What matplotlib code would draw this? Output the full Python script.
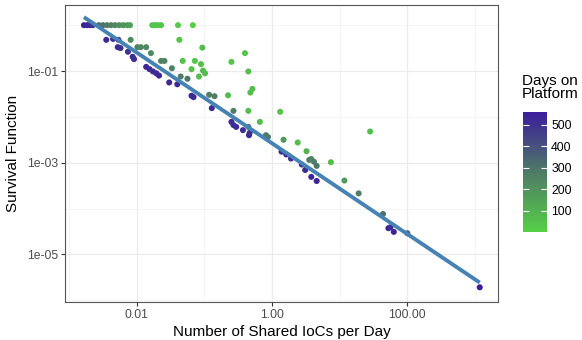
import numpy as np
import matplotlib
matplotlib.use("Agg")
import matplotlib.pyplot as plt
from matplotlib.colors import LinearSegmentedColormap

plt.rcParams['font.family'] = ['Liberation Sans', 'DejaVu Sans']

# values (log10 of the plotted quantities)
log_iocs = [-2.78, -2.73, -2.69, -2.65, -2.56, -2.50, -2.44, -2.38, -2.32, -2.26,
            -2.20, -2.14, -2.10, -1.77, -1.73, -1.69, -1.64, -1.39, -1.17,
            -2.45, -2.35, -2.27, -2.09, -2.28, -2.24, -2.13, -2.06, -2.04, -1.99,
            -1.94, -1.86, -1.79, -1.86, -1.81, -1.76, -1.71, -1.67, -1.64, -1.59,
            -1.48, -1.35, -1.52, -1.40, -1.37, -1.32, -1.03, -1.14, -1.05, -1.19,
            -1.02, -0.99, -1.08, -1.25, -1.19, -1.16, -0.93, -0.85, -0.89, -0.60,
            -0.40, -0.35, -0.32, -0.29, -0.65, -0.57, -0.35, -0.60, -0.57, -0.53,
            -0.43, -0.34, -0.33, -0.35, -0.18, -0.09, -0.06, 0.12, 0.17, 0.38,
            0.51, 0.14, 0.21, 0.28, 0.55, 0.58, 0.62, 0.66, 0.44, 0.49,
            0.58, 0.66, 0.87, 1.07, 1.28, 1.64, 1.72, 1.75, 1.80, 2.00,
            3.07, 1.45]
log_survival = [0, 0, 0, 0, 0, 0, 0, 0, 0, 0,
                0, 0, 0, 0, 0, 0, 0, 0, 0,
                -0.32, -0.30, -0.32, -0.32, -0.48, -0.50, -0.58, -0.69, -0.74, -0.48,
                -0.48, -0.48, -0.61, -0.91, -0.96, -1.01, -1.05, -1.10, -0.78, -0.78,
                -0.94, -1.12, -1.25, -1.29, -0.32, -0.78, -0.49, -0.78, -0.85, -0.96,
                -0.99, -1.05, -1.12, -1.17, -1.54, -1.57, -1.52, -1.55, -1.81, -0.80,
                -0.61, -1.01, -1.47, -1.39, -1.53, -1.87, -1.87, -2.11, -2.18, -2.22,
                -2.29, -2.40, -2.35, -2.22, -2.11, -2.40, -2.44, -1.89, -2.50, -2.56,
                -2.75, -2.76, -2.82, -2.91, -2.94, -2.92, -2.98, -3.07, -3.04, -3.16,
                -3.31, -3.40, -2.99, -3.39, -3.67, -4.12, -4.43, -4.41, -4.51, -4.54,
                -5.72, -2.32]
days = [540, 530, 520, 500, 320, 300, 280, 260, 240, 220,
        200, 180, 160, 40, 40, 40, 40, 20, 1,
        520, 500, 480, 230, 520, 510, 500, 520, 510, 250,
        240, 230, 230, 530, 520, 510, 520, 530, 260, 250,
        250, 270, 530, 520, 40, 50, 60, 40, 60, 50,
        70, 60, 70, 290, 530, 520, 270, 260, 520, 40,
        40, 60, 60, 60, 70, 270, 60, 520, 510, 520,
        510, 530, 500, 310, 70, 270, 290, 40, 190, 60,
        100, 510, 520, 510, 280, 250, 270, 290, 500, 520,
        530, 530, 60, 170, 270, 310, 530, 520, 540, 350,
        560, 60]

# linear fit on log-log scale
fit_intercept = -2.577
fit_slope = -0.99

x = 10 ** np.array(log_iocs)
y = 10 ** np.array(log_survival)

cmap = LinearSegmentedColormap.from_list('days', ['#55d046', '#4f7a66', '#3b1d9c'])

fig = plt.figure(figsize=(5.82, 3.40), dpi=100)
ax = fig.add_axes([65 / 582, 1 - 302 / 340, 433 / 582, 297 / 340])
ax.set_xscale('log')
ax.set_yscale('log')

sc = ax.scatter(x, y, c=days, cmap=cmap, s=19, linewidths=0, zorder=3)
xl = np.array([min(log_iocs), max(log_iocs)])
ax.plot(10 ** xl, 10 ** (fit_intercept + fit_slope * xl), color='#4682b4',
        lw=2.8, solid_capstyle='butt', zorder=4)

ax.set_xlim(10 ** -3.06, 10 ** 3.34)
ax.set_ylim(10 ** -6.04, 10 ** 0.44)

ax.set_xticks([0.01, 1, 100])
ax.set_xticklabels(['0.01', '1.00', '100.00'])
ax.set_xticks([0.001, 0.1, 10, 1000], minor=True)
ax.set_yticks([1e-1, 1e-3, 1e-5])
ax.set_yticklabels(['1e-01', '1e-03', '1e-05'])
ax.set_yticks([1, 1e-2, 1e-4, 1e-6], minor=True)
ax.xaxis.set_minor_formatter(plt.NullFormatter())
ax.yaxis.set_minor_formatter(plt.NullFormatter())

ax.grid(True, which='major', color='#ebebeb', lw=0.9, zorder=0)
ax.grid(True, which='minor', color='#f2f2f2', lw=0.5, zorder=0)
ax.set_axisbelow(True)
ax.tick_params(which='major', length=3, width=0.8, color='#333333',
               labelsize=8.8, labelcolor='#4d4d4d', pad=2)
ax.tick_params(which='minor', length=0)
for s in ax.spines.values():
    s.set_color('#555555')
    s.set_linewidth(0.8)

ax.set_xlabel('Number of Shared IoCs per Day', fontsize=11, labelpad=3)
ax.set_ylabel('Survival Function', fontsize=11, labelpad=5)

cax = fig.add_axes([523 / 582, 1 - 232 / 340, 24 / 582, 120 / 340])
cb = fig.colorbar(sc, cax=cax)
cb.outline.set_visible(False)
cb.set_ticks([100, 200, 300, 400, 500])
cax.tick_params(axis='y', direction='in', color='white', length=4.5, width=0.8,
                left=True, right=True, labelsize=8.8, pad=3)
fig.text(522 / 582, 1 - 101 / 340, 'Days on\nPlatform', fontsize=11,
         ha='left', va='bottom', linespacing=0.95)

fig.savefig('out.png', dpi=100)
